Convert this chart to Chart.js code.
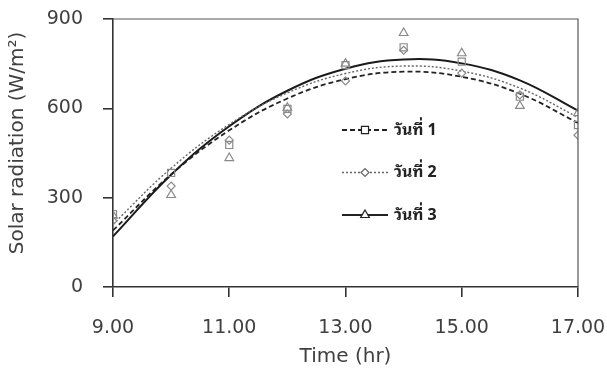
<!DOCTYPE html>
<html>
<head>
<meta charset="utf-8">
<script src="https://cdn.jsdelivr.net/npm/chart.js@4"></script>
<style>
  html, body { margin: 0; padding: 0; background: #fff; }
  #wrap { width: 607px; height: 380px; }
</style>
</head>
<body>
<div id="wrap"><canvas id="solarChart"></canvas></div>
<script>
const HOURS = [9, 10, 11, 12, 13, 14, 15, 16, 17];
// measured points
const DAY1 = [245, 383, 477, 598, 745, 805, 757, 639, 544];
const DAY2 = [222, 339, 493, 581, 692, 795, 718, 645, 510];
const DAY3 = [240, 309, 433, 602, 750, 853, 785, 608, 584];
// trend curves
const FIT1 = [190, 378, 526, 633, 698, 723, 706, 649, 551];
const FIT2 = [211, 399, 546, 652, 717, 742, 725, 668, 570];
const FIT3 = [170, 377, 540, 659, 733, 764, 751, 694, 592];
const LABELS = ['วันที่ 1', 'วันที่ 2', 'วันที่ 3'];
const Y_TICKS = [0, 300, 600, 900];

const AXIS = '#333333';
const TEXT = '#404040';
const MARK = '#8a8a8a';
const THAI = '"Noto Sans Thai Looped", "Loma", "Garuda", "Tahoma", "Noto Sans Thai", "DejaVu Sans", sans-serif';

function pts(vals) {
    return HOURS.map((h, i) => ({ x: h, y: vals[i] }));
}

function markSet(label, vals, style, r) {
    return {
        type: 'scatter', label: label, data: pts(vals),
        pointStyle: style, pointRadius: r, pointBorderWidth: 1.2,
        borderColor: MARK, backgroundColor: 'transparent', showLine: false
    };
}

function fitSet(label, vals, color, dash, width) {
    return {
        type: 'line', label: label, data: pts(vals),
        borderColor: color, borderDash: dash, borderWidth: width,
        pointRadius: 0, tension: 0.4, fill: false
    };
}

// no auto padding for tick labels, layout.padding decides
function noPad(s) {
    s.paddingTop = 0; s.paddingBottom = 0;
    s.paddingLeft = 0; s.paddingRight = 0;
}

const legendItems = [
    { text: LABELS[0], dash: [5, 3], color: '#222', width: 1.8, style: 'rect', r: 5 },
    { text: LABELS[1], dash: [2, 2], color: '#666', width: 1.4, style: 'rectRot', r: 4 },
    { text: LABELS[2], dash: [], color: '#222', width: 2, style: 'triangle', r: 5 }
];

const framePlugin = {
    id: 'frame',
    afterDraw(chart) {
        const { ctx, chartArea: a } = chart;
        ctx.save();
        ctx.strokeStyle = '#555';
        ctx.lineWidth = 1.2;
        ctx.beginPath();
        ctx.moveTo(a.left, a.top);
        ctx.lineTo(a.right, a.top);
        ctx.lineTo(a.right, a.bottom);
        ctx.stroke();

        // legend inside the plot
        legendItems.forEach((it, i) => {
            const y = a.top + 111 + i * 42.5;
            const x0 = a.left + 229, x1 = a.left + 275;
            ctx.setLineDash(it.dash);
            ctx.strokeStyle = it.color;
            ctx.lineWidth = it.width;
            ctx.beginPath();
            ctx.moveTo(x0, y);
            ctx.lineTo(x1, y);
            ctx.stroke();
            ctx.setLineDash([]);
            ctx.fillStyle = '#fff';
            ctx.strokeStyle = it.color;
            ctx.lineWidth = 1.2;
            Chart.helpers.drawPoint(ctx, { pointStyle: it.style, radius: it.r, rotation: 0, borderWidth: 1.2 }, (x0 + x1) / 2, y);
            ctx.fillStyle = '#222';
            ctx.font = 'bold 16px ' + THAI;
            ctx.textBaseline = 'middle';
            ctx.textAlign = 'left';
            ctx.fillText(it.text, x1 + 6, y);
        });
        ctx.restore();
    }
};

new Chart(document.getElementById('solarChart'), {
    data: {
        datasets: [
            markSet(LABELS[0], DAY1, 'rect', 5),
            markSet(LABELS[1], DAY2, 'rectRot', 4),
            markSet(LABELS[2], DAY3, 'triangle', 5),
            fitSet(LABELS[0], FIT1, '#222', [5, 3], 1.8),
            fitSet(LABELS[1], FIT2, '#666', [2, 2], 1.4),
            fitSet(LABELS[2], FIT3, '#1a1a1a', [], 2)
        ]
    },
    options: {
        responsive: true,
        maintainAspectRatio: false,
        animation: false,
        layout: { padding: { top: 19, right: 29, left: 0, bottom: 0 } },
        plugins: {
            legend: { display: false },
            tooltip: { enabled: false }
        },
        scales: {
            x: {
                type: 'linear', min: 9, max: 17,
                afterFit: s => { s.height = 93; noPad(s); },
                border: { color: AXIS, width: 1.6 },
                grid: { drawOnChartArea: false, drawTicks: true, tickLength: 10, color: AXIS, lineWidth: 1.6 },
                ticks: {
                    stepSize: 2, padding: 20, color: TEXT,
                    font: { family: 'DejaVu Sans', size: 19 },
                    callback: v => v.toFixed(2)
                },
                title: {
                    display: true, text: 'Time (hr)', color: TEXT,
                    font: { family: 'DejaVu Sans', size: 20 },
                    padding: { top: 0, bottom: 11 }
                }
            },
            y: {
                min: 0, max: 900,
                afterFit: s => { s.width = 113; noPad(s); },
                afterBuildTicks: s => { s.ticks = Y_TICKS.map(v => ({ value: v })); },
                border: { color: AXIS, width: 1.6 },
                grid: { drawOnChartArea: false, drawTicks: true, tickLength: 10, color: AXIS, lineWidth: 1.6 },
                ticks: {
                    padding: 20, color: TEXT,
                    font: { family: 'DejaVu Sans', size: 19 }
                },
                title: {
                    display: true, text: '\u2002\u2002Solar radiation (W/m²)', color: TEXT,
                    font: { family: 'DejaVu Sans', size: 20 },
                    padding: { top: 6, bottom: 0 }
                }
            }
        }
    },
    plugins: [framePlugin]
});
</script>
</body>
</html>
